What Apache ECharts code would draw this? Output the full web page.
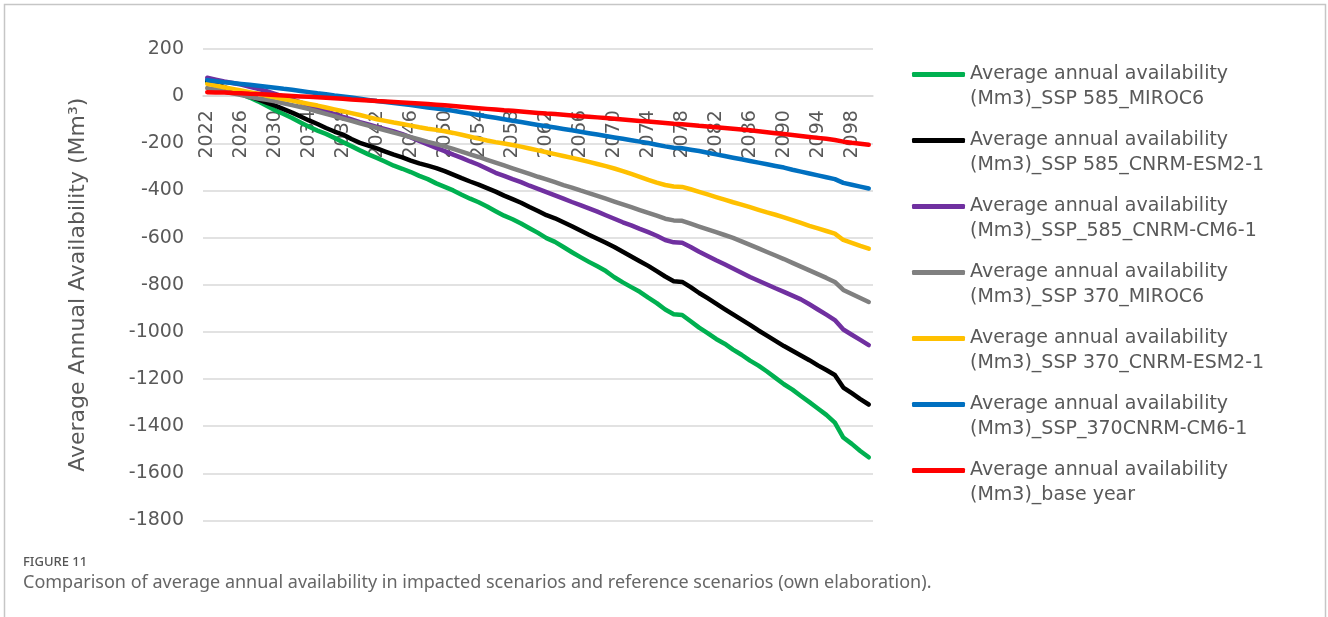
<!DOCTYPE html>
<html>
<head>
<meta charset="utf-8">
<script src="https://cdn.jsdelivr.net/npm/echarts@6/dist/echarts.min.js"></script>
<style>
  html, body { margin: 0; padding: 0; background: #fff; }
  #chart { width: 1328px; height: 617px; }
</style>
</head>
<body>
<div id="chart"></div>
<script>
// years 2022 .. 2100
var years = [];
for (var y = 2022; y <= 2100; y++) years.push(String(y));

var yTicks = [200, 0, -200, -400, -600, -800, -1000, -1200, -1400, -1600, -1800];

// SSP 585 MIROC6 (green)
var ssp585Miroc6 = [60, 46, 33, 21, 8, -6, -22, -41, -60, -76,
  -93, -112, -130, -146, -160, -177, -195, -212, -230, -247,
  -262, -278, -295, -308, -322, -338, -352, -370, -385, -400,
  -418, -435, -450, -468, -488, -507, -522, -540, -560, -580,
  -602, -618, -640, -662, -683, -703, -722, -742, -768, -790,
  -810, -830, -855, -878, -905, -925, -928, -955, -982, -1005,
  -1030, -1050, -1075, -1097, -1122, -1143, -1168, -1195, -1222, -1245,
  -1272, -1298, -1325, -1352, -1385, -1448, -1475, -1505, -1532];

// SSP 585 CNRM-ESM2-1 (black)
var ssp585Esm = [65, 52, 38, 25, 12, -1, -14, -27, -40, -55,
  -70, -86, -103, -118, -135, -150, -163, -182, -198, -210,
  -222, -235, -248, -260, -273, -285, -295, -305, -318, -333,
  -348, -362, -375, -390, -405, -422, -437, -452, -470, -487,
  -505, -518, -535, -552, -570, -588, -605, -622, -640, -660,
  -680, -700, -720, -742, -765, -785, -788, -810, -835, -857,
  -880, -903, -926, -948, -970, -994, -1016, -1038, -1060, -1080,
  -1100, -1120, -1142, -1162, -1183, -1236, -1260, -1285, -1308];

// SSP 585 CNRM-CM6-1 (purple)
var ssp585Cm6 = [78, 70, 62, 56, 49, 40, 31, 21, 10, -2,
  -14, -26, -39, -51, -63, -76, -88, -99, -110, -120,
  -130, -140, -150, -161, -175, -190, -205, -219, -233, -248,
  -262, -277, -291, -308, -325, -338, -352, -365, -380, -393,
  -407, -421, -435, -449, -462, -476, -490, -505, -520, -535,
  -548, -563, -577, -592, -610, -620, -622, -640, -660, -678,
  -696, -713, -731, -749, -767, -783, -799, -815, -830, -846,
  -862, -883, -905, -927, -950, -990, -1012, -1034, -1056];

// SSP 370 MIROC6 (gray)
var ssp370Miroc6 = [34, 27, 20, 12, 5, -3, -10, -15, -22, -30,
  -38, -46, -55, -65, -75, -85, -95, -105, -115, -125,
  -135, -145, -155, -164, -174, -184, -194, -203, -213, -224,
  -235, -247, -258, -270, -282, -294, -306, -318, -330, -342,
  -353, -365, -377, -388, -400, -411, -423, -435, -447, -459,
  -471, -483, -495, -507, -520, -527, -529, -541, -553, -565,
  -577, -589, -601, -616, -631, -646, -661, -676, -691, -707,
  -723, -739, -755, -771, -788, -822, -839, -856, -873];

// SSP 370 CNRM-ESM2-1 (yellow)
var ssp370Esm = [52, 45, 38, 31, 24, 17, 10, 2, -5, -12,
  -19, -26, -33, -40, -48, -56, -64, -72, -80, -89,
  -98, -105, -112, -118, -125, -132, -138, -143, -149, -156,
  -164, -172, -180, -188, -195, -201, -207, -214, -222, -230,
  -238, -246, -254, -262, -270, -279, -288, -297, -307, -318,
  -330, -342, -355, -367, -377, -383, -385, -395, -406, -417,
  -428, -439, -450, -460, -471, -482, -493, -503, -514, -526,
  -538, -550, -561, -572, -583, -610, -622, -635, -647];

// SSP 370 CNRM-CM6-1 (blue)
var ssp370Cm6 = [68, 63, 59, 56, 52, 48, 44, 40, 36, 31,
  27, 22, 17, 12, 8, 3, -1, -6, -11, -16,
  -21, -25, -29, -33, -38, -43, -48, -52, -57, -62,
  -68, -74, -80, -86, -92, -98, -104, -110, -116, -122,
  -128, -133, -139, -145, -151, -157, -163, -169, -175, -181,
  -187, -193, -199, -206, -213, -219, -221, -227, -233, -240,
  -247, -254, -261, -268, -275, -282, -289, -296, -303, -312,
  -320, -328, -336, -344, -352, -368, -376, -384, -392];

// base year (red)
var baseYear = [17, 16, 15, 13, 12, 10, 9, 7, 5, 3,
  1, -1, -3, -5, -7, -9, -11, -14, -16, -18,
  -21, -23, -25, -27, -29, -31, -33, -36, -39, -42,
  -45, -48, -51, -54, -57, -60, -62, -65, -68, -71,
  -74, -76, -79, -82, -85, -87, -90, -93, -96, -99,
  -102, -105, -108, -111, -114, -117, -119, -122, -126, -129,
  -132, -135, -138, -141, -145, -149, -153, -157, -161, -165,
  -169, -173, -177, -181, -186, -193, -198, -202, -206];

var seriesNames = [
  'Average annual availability (Mm3)_SSP 585_MIROC6',
  'Average annual availability (Mm3)_SSP 585_CNRM-ESM2-1',
  'Average annual availability (Mm3)_SSP_585_CNRM-CM6-1',
  'Average annual availability (Mm3)_SSP 370_MIROC6',
  'Average annual availability (Mm3)_SSP 370_CNRM-ESM2-1',
  'Average annual availability (Mm3)_SSP_370CNRM-CM6-1',
  'Average annual availability (Mm3)_base year'
];
var seriesData = [ssp585Miroc6, ssp585Esm, ssp585Cm6, ssp370Miroc6, ssp370Esm, ssp370Cm6, baseYear];
var colors = ['#00B050', '#000000', '#7030A0', '#808080', '#FFC000', '#0070C0', '#FF0000'];

var font = 'DejaVu Sans';
var gridTop = 49, gridBottom = 96.5;
var yMin = yTicks[yTicks.length - 1], yMax = yTicks[0];
// category axis sits on the zero line
var plotH = 617 - gridTop - gridBottom;
var zeroOffset = -plotH * (0 - yMin) / (yMax - yMin);

var chart = echarts.init(document.getElementById('chart'));

var series = [];
for (var i = 0; i < seriesData.length; i++) {
  series.push({
    name: seriesNames[i],
    type: 'line',
    data: seriesData[i],
    symbol: 'none',
    color: colors[i],
    lineStyle: { width: 4.5, color: colors[i], cap: 'round', join: 'round' },
    emphasis: { disabled: true }
  });
}

chart.setOption({
  animation: false,
  backgroundColor: '#fff',
  color: colors,
  title: [
    { text: 'FIGURE 11', left: 18, top: 551,
      textStyle: { fontFamily: 'Noto Sans', fontSize: 13, fontWeight: 500, color: '#555' } },
    { text: 'Comparison of average annual availability in impacted scenarios and reference scenarios (own elaboration).',
      left: 18, top: 569,
      textStyle: { fontFamily: 'Noto Sans', fontSize: 18, fontWeight: 'normal', color: '#666' } }
  ],
  graphic: [{
    type: 'rect',
    shape: { x: 4.5, y: 4.5, width: 1321, height: 700 },
    style: { fill: 'none', stroke: '#c6c6c6', lineWidth: 1.5 },
    silent: true
  }],
  grid: { left: 203, right: 455, top: gridTop, bottom: gridBottom },
  legend: {
    orient: 'vertical',
    left: 912,
    top: 37,
    padding: 0,
    itemWidth: 53,
    itemHeight: 5,
    itemGap: -9,
    icon: 'roundRect',
    data: seriesNames,
    // blank first line keeps the icon level with the first text line
    formatter: function (name) { return ' \n' + name.replace(' (', '\n('); },
    textStyle: { fontFamily: font, fontSize: 19, lineHeight: 25, color: '#595959' }
  },
  xAxis: {
    type: 'category',
    data: years,
    boundaryGap: true,
    position: 'bottom',
    offset: zeroOffset,
    axisLine: { onZero: false, lineStyle: { color: '#d9d9d9', width: 1.5 } },
    axisTick: { show: false },
    axisLabel: { interval: 3, rotate: 90, margin: 14, fontFamily: font, fontSize: 19, color: '#595959' },
    splitLine: { show: false }
  },
  yAxis: {
    type: 'value',
    min: yMin,
    max: yMax,
    interval: 200,
    name: 'Average Annual Availability (Mm³)',
    nameLocation: 'middle',
    nameGap: 114,
    nameTextStyle: { fontFamily: font, fontSize: 22, color: '#595959' },
    axisLine: { show: false },
    axisTick: { show: false },
    axisLabel: { margin: 19, fontFamily: font, fontSize: 19, color: '#595959',
      formatter: function (v) { return String(v); } },
    splitLine: { lineStyle: { color: '#d9d9d9', width: 1.5 } }
  },
  series: series
});
</script>
</body>
</html>
